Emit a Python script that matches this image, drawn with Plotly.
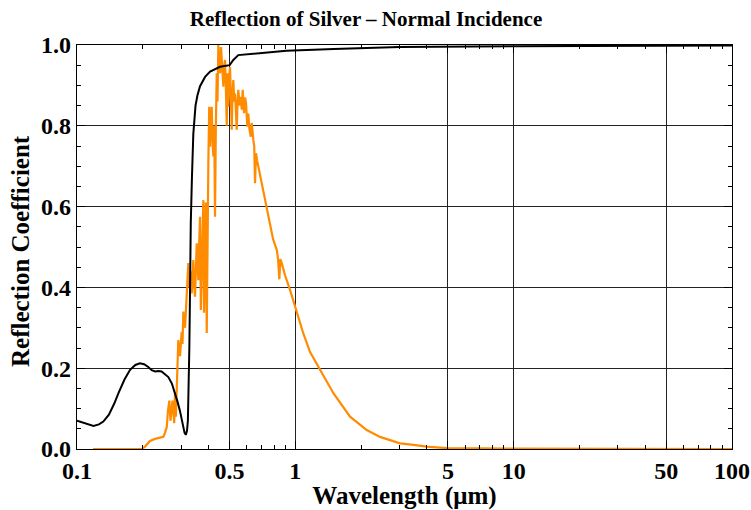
import plotly.graph_objects as go

# Silver reflection coefficient at normal incidence
silver_wavelength = [0.100, 0.110, 0.119, 0.126, 0.132, 0.140, 0.148, 0.155, 0.165, 0.175,
                     0.185, 0.194, 0.203, 0.212, 0.220, 0.228, 0.236, 0.244, 0.253, 0.262,
                     0.272, 0.281, 0.289, 0.296, 0.305, 0.311, 0.315, 0.319, 0.322, 0.324,
                     0.326, 0.327, 0.329, 0.330, 0.332, 0.336, 0.341, 0.349, 0.356, 0.366,
                     0.386, 0.407, 0.452, 0.500, 0.520, 0.548, 0.642, 0.910, 1.5, 3.0,
                     10.0, 30.0, 100.0]
silver_reflection = [0.070, 0.062, 0.057, 0.061, 0.068, 0.085, 0.112, 0.139, 0.172, 0.196,
                     0.208, 0.212, 0.210, 0.203, 0.195, 0.192, 0.193, 0.192, 0.186, 0.178,
                     0.162, 0.140, 0.116, 0.095, 0.058, 0.040, 0.035, 0.045, 0.070, 0.120,
                     0.200, 0.250, 0.370, 0.450, 0.560, 0.670, 0.780, 0.850, 0.875, 0.898,
                     0.921, 0.934, 0.946, 0.950, 0.963, 0.975, 0.979, 0.986, 0.990, 0.995,
                     0.997, 0.998, 0.999]

# Normalized solar spectrum
solar_wavelength = [0.1184, 0.1985, 0.2049, 0.2160, 0.2277, 0.2400, 0.2485, 0.2529, 0.2576, 0.2611,
                    0.2648, 0.2681, 0.2738, 0.2788, 0.2812, 0.2836, 0.2887, 0.2911, 0.2964, 0.3017,
                    0.3043, 0.3069, 0.3125, 0.3181, 0.3236, 0.3269, 0.3311, 0.3353, 0.3410, 0.3443,
                    0.3472, 0.3535, 0.3565, 0.3596, 0.3622, 0.3660, 0.3692, 0.3727, 0.3758, 0.3790,
                    0.3818, 0.3859, 0.3890, 0.3928, 0.3961, 0.3996, 0.4033, 0.4068, 0.4102, 0.4140,
                    0.4176, 0.4211, 0.4251, 0.4288, 0.4323, 0.4365, 0.4401, 0.4440, 0.4481, 0.4520,
                    0.4567, 0.4602, 0.4640, 0.4680, 0.4724, 0.4764, 0.4804, 0.4851, 0.4891, 0.4933,
                    0.4980, 0.5022, 0.5064, 0.5113, 0.5157, 0.5200, 0.5250, 0.5294, 0.5339, 0.5390,
                    0.5436, 0.5482, 0.5552, 0.5622, 0.5682, 0.5741, 0.5821, 0.5884, 0.5946, 0.6027,
                    0.6091, 0.6156, 0.6248, 0.6314, 0.6421, 0.6482, 0.6537, 0.6607, 0.6678, 0.6892,
                    0.7136, 0.7396, 0.7659, 0.7904, 0.8221, 0.8333, 0.8449, 0.8538, 0.8666, 0.8971,
                    0.9456, 1.000, 1.088, 1.168, 1.298, 1.494, 1.781, 1.979, 2.123, 2.443,
                    2.716, 3.017, 3.473, 4.00, 4.94, 10.0, 100.0]
solar_intensity = [0.000, 0.000, 0.006, 0.020, 0.025, 0.028, 0.030, 0.040, 0.054, 0.095,
                   0.120, 0.070, 0.120, 0.064, 0.140, 0.080, 0.200, 0.270, 0.230, 0.290,
                   0.260, 0.340, 0.300, 0.377, 0.460, 0.400, 0.440, 0.385, 0.468, 0.400,
                   0.377, 0.509, 0.440, 0.418, 0.500, 0.575, 0.344, 0.443, 0.550, 0.616,
                   0.337, 0.500, 0.610, 0.287, 0.550, 0.710, 0.847, 0.748, 0.820, 0.847,
                   0.760, 0.724, 0.800, 0.575, 0.790, 0.930, 0.860, 1.000, 0.950, 0.930,
                   0.995, 0.960, 0.913, 0.897, 0.950, 0.963, 0.900, 0.800, 0.930, 0.847,
                   0.920, 0.946, 0.880, 0.790, 0.880, 0.913, 0.860, 0.880, 0.840, 0.790,
                   0.860, 0.889, 0.850, 0.872, 0.840, 0.889, 0.831, 0.870, 0.856, 0.798,
                   0.830, 0.794, 0.773, 0.807, 0.765, 0.750, 0.658, 0.732, 0.715, 0.680,
                   0.641, 0.600, 0.560, 0.520, 0.493, 0.470, 0.420, 0.470, 0.460, 0.430,
                   0.394, 0.350, 0.286, 0.240, 0.196, 0.138, 0.080, 0.060, 0.047, 0.030,
                   0.022, 0.014, 0.010, 0.006, 0.002, 0.0007, 0.000]

x_tickvals = [0.1, 0.5, 1, 5, 10, 50, 100]
x_ticktext = ["0.1", "0.5", "1", "5", "10", "50", "100"]
x_minor = [0.2, 0.3, 0.4, 0.6, 0.7, 0.8, 0.9, 2, 3, 4, 6, 7, 8, 9,
           20, 30, 40, 60, 70, 80, 90]
y_tickvals = [0.0, 0.2, 0.4, 0.6, 0.8, 1.0]
y_ticktext = ["0.0", "0.2", "0.4", "0.6", "0.8", "1.0"]
y_minor = [0.05, 0.1, 0.15, 0.25, 0.3, 0.35, 0.45, 0.5, 0.55, 0.65, 0.7, 0.75,
           0.85, 0.9, 0.95]

SERIF = "Liberation Serif, Times New Roman, serif"

W, H = 751, 510
ML, MR, MT, MB = 77, 19, 45, 61
PW, PH = W - ML - MR, H - MT - MB

fig = go.Figure()
fig.add_trace(go.Scatter(x=solar_wavelength, y=solar_intensity, mode="lines",
                         line=dict(color="#FF8C00", width=2.2), showlegend=False))
fig.add_trace(go.Scatter(x=silver_wavelength, y=silver_reflection, mode="lines",
                         line=dict(color="black", width=2), showlegend=False))

axis_common = dict(
    showline=True, linecolor="black", linewidth=1.2, mirror="ticks",
    ticks="inside", ticklen=8, tickcolor="black", tickwidth=1,
    showgrid=True, gridcolor="#222222", gridwidth=1, zeroline=False,
    tickfont=dict(family=SERIF, size=24, color="black", weight="bold"),
    automargin=False,
)

fig.update_layout(
    width=W, height=H,
    margin=dict(l=ML, r=MR, t=MT, b=MB),
    paper_bgcolor="white", plot_bgcolor="white",
    title=dict(text="Reflection of Silver \u2013 Normal Incidence",
               x=366 / W, xanchor="center", y=1 - 19 / H, yanchor="middle",
               font=dict(family=SERIF, size=21, color="black", weight="bold")),
    xaxis=dict(type="log", range=[-1, 2], tickmode="array",
               tickvals=x_tickvals, ticktext=x_ticktext,
               minor=dict(tickmode="array", tickvals=x_minor, ticks="inside",
                          ticklen=4, tickcolor="black", showgrid=False),
               title=dict(text="Wavelength (\u03bcm)", standoff=4,
                          font=dict(family=SERIF, size=25, color="black", weight="bold")),
               **axis_common),
    yaxis=dict(range=[0, 1], tickmode="array",
               tickvals=y_tickvals, ticktext=y_ticktext,
               minor=dict(tickmode="array", tickvals=y_minor, ticks="inside",
                          ticklen=4, tickcolor="black", showgrid=False),
               **axis_common),
    annotations=[dict(text="Reflection Coefficient", textangle=-90,
                      xref="paper", yref="paper", x=-57 / PW, y=(449 - 251) / PH,
                      xanchor="center", yanchor="middle", showarrow=False,
                      font=dict(family=SERIF, size=25, color="black", weight="bold"))],
)

# remove the browser's default 8px page margin so the figure fills the window
fig.write_html("out.html",
               config={"displayModeBar": False},
               post_script="document.body.style.margin='0';"
                           "document.body.style.overflow='hidden';")
